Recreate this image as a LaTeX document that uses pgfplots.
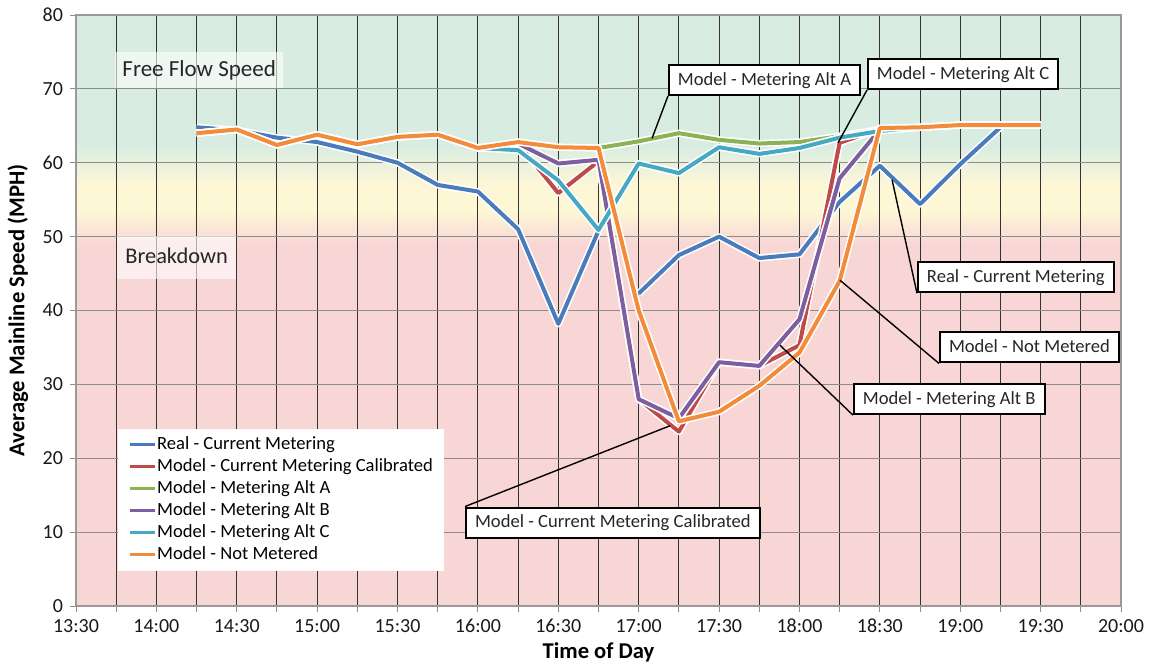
\documentclass[border=0pt]{standalone}
\usepackage{fontspec}
\setmainfont{Carlito}
\usepackage{pgfplots}
\pgfplotsset{compat=1.18}
\usepackage{pgfplotstable}

\definecolor{cblue}{HTML}{4A7BBA}
\definecolor{cred}{HTML}{BE4B48}
\definecolor{cgreen}{HTML}{8DB255}
\definecolor{cpurple}{HTML}{7D5FA0}
\definecolor{ccyan}{HTML}{46A8C2}
\definecolor{corange}{HTML}{F28C3A}
\definecolor{bggreen}{RGB}{216,236,226}
\definecolor{bgyellow}{RGB}{253,247,214}
\definecolor{bgpink}{RGB}{248,214,214}

\pgfplotstableread{
x y
14.25 64.8
14.5 64.4
14.75 63.4
15.0 62.8
15.25 61.5
15.5 60.0
15.75 57.0
16.0 56.1
16.25 51.0
16.5 38.2
16.75 50.8
16.875 nan
17.0 42.3
17.25 47.5
17.5 50.0
17.75 47.1
18.0 47.6
18.25 54.7
18.5 59.6
18.75 54.4
19.0 59.8
19.25 64.8
}\treal

\pgfplotstableread{
x y
14.25 64.0
14.5 64.5
14.75 62.4
15.0 63.8
15.25 62.5
15.5 63.5
15.75 63.8
16.0 62.0
16.25 62.6
16.5 55.9
16.75 60.2
17.0 28.0
17.25 23.6
17.5 33.0
17.75 32.5
18.0 35.3
18.25 62.7
18.5 64.6
18.75 64.8
19.0 65.1
19.25 65.1
19.5 65.1
}\tcal

\pgfplotstableread{
x y
14.25 64.0
14.5 64.5
14.75 62.4
15.0 63.8
15.25 62.5
15.5 63.5
15.75 63.8
16.0 62.0
16.25 62.8
16.5 62.1
16.75 62.0
17.0 62.9
17.25 64.0
17.5 63.1
17.75 62.6
18.0 62.8
18.25 63.6
18.5 64.5
18.75 64.8
19.0 65.1
19.25 65.1
19.5 65.1
}\taltA

\pgfplotstableread{
x y
14.25 64.0
14.5 64.5
14.75 62.4
15.0 63.8
15.25 62.5
15.5 63.5
15.75 63.8
16.0 62.0
16.25 62.6
16.5 59.9
16.75 60.4
17.0 28.0
17.25 25.4
17.5 33.0
17.75 32.5
18.0 38.8
18.25 57.9
18.5 64.5
18.75 64.8
19.0 65.1
19.25 65.1
19.5 65.1
}\taltB

\pgfplotstableread{
x y
14.25 64.0
14.5 64.5
14.75 62.4
15.0 63.8
15.25 62.5
15.5 63.5
15.75 63.8
16.0 62.0
16.25 61.7
16.5 57.6
16.75 50.9
17.0 59.9
17.25 58.6
17.5 62.1
17.75 61.2
18.0 62.0
18.25 63.4
18.5 64.3
18.75 64.8
19.0 65.1
19.25 65.1
19.5 65.1
}\taltC

\pgfplotstableread{
x y
14.25 64.0
14.5 64.5
14.75 62.4
15.0 63.8
15.25 62.5
15.5 63.5
15.75 63.8
16.0 62.0
16.25 62.8
16.5 62.1
16.75 62.0
17.0 40.0
17.25 25.0
17.5 26.3
17.75 29.8
18.0 34.3
18.25 44.0
18.5 64.7
18.75 64.8
19.0 65.1
19.25 65.1
19.5 65.1
}\tnm

\begin{document}
\begin{tikzpicture}
\begin{axis}[
  set layers,
  scale only axis, width=522.5pt, height=295.5pt,
  xmin=13.5, xmax=20, ymin=0, ymax=80,
  unbounded coords=jump,
  xtick={13.5,14,14.5,15,15.5,16,16.5,17,17.5,18,18.5,19,19.5,20},
  xticklabels={13:30,14:00,14:30,15:00,15:30,16:00,16:30,17:00,17:30,18:00,18:30,19:00,19:30,20:00},
  minor xtick={13.75,14.25,14.75,15.25,15.75,16.25,16.75,17.25,17.75,18.25,18.75,19.25,19.75},
  ytick={0,10,...,80},
  xmajorgrids, xminorgrids, ymajorgrids,
  major x grid style={black!80, line width=0.5pt},
  minor x grid style={black!80, line width=0.5pt},
  major y grid style={black!45, line width=0.6pt},
  tick align=outside, xtick pos=bottom, ytick pos=left,
  major tick length=3pt, minor tick length=3pt,
  tick style={black!45, line width=0.5pt},
  axis line style={black!40, line width=0.6pt},
  /pgf/number format/assume math mode=true,
  tick label style={font=\fontsize{10}{12}\selectfont, text=black!90},
  xlabel={Time of Day}, ylabel={Average Mainline Speed (MPH)},
  label style={font=\fontsize{11.3}{13}\selectfont\bfseries},
  x label style={at={(axis description cs:0.5,0)}, anchor=center, yshift=-23pt},
  y label style={at={(axis description cs:0,0.5)}, anchor=center, yshift=29pt},
  legend style={at={(rel axis cs:0.040,0.301)}, anchor=north west, draw=none, fill=white,
    font=\fontsize{9.3}{11}\selectfont, inner xsep=5pt, inner ysep=2.5pt, row sep=0pt,
    nodes={inner xsep=0.5pt, inner ysep=1pt, text height=7pt, text depth=2pt}},
  legend cell align=left,
  legend image code/.code={\draw[#1, line width=1.5pt] (0pt,0pt) -- (12.5pt,0pt);},
  every axis plot/.append style={line join=round},
]
\begin{pgfonlayer}{axis background}
\fill[bgpink] (axis cs:13.5,0) rectangle (axis cs:20,49);
\fill[bottom color=bgpink, top color=bgyellow] (axis cs:13.5,49) rectangle (axis cs:20,53.5);
\fill[bgyellow] (axis cs:13.5,53.5) rectangle (axis cs:20,57);
\fill[bottom color=bgyellow, top color=bggreen] (axis cs:13.5,57) rectangle (axis cs:20,62.5);
\fill[bggreen] (axis cs:13.5,62.5) rectangle (axis cs:20,80);
\end{pgfonlayer}

\addplot[forget plot, white, line width=3.6pt] table[x=x,y=y] {\treal};
\addplot[cblue, line width=2pt] table[x=x,y=y] {\treal};
\addlegendentry{Real - Current Metering}
\addplot[forget plot, white, line width=3.6pt] table[x=x,y=y] {\tcal};
\addplot[cred, line width=2pt] table[x=x,y=y] {\tcal};
\addlegendentry{Model - Current Metering Calibrated}
\addplot[forget plot, white, line width=3.6pt] table[x=x,y=y] {\taltA};
\addplot[cgreen, line width=2pt] table[x=x,y=y] {\taltA};
\addlegendentry{Model - Metering Alt A}
\addplot[forget plot, white, line width=3.6pt] table[x=x,y=y] {\taltB};
\addplot[cpurple, line width=2pt] table[x=x,y=y] {\taltB};
\addlegendentry{Model - Metering Alt B}
\addplot[forget plot, white, line width=3.6pt] table[x=x,y=y] {\taltC};
\addplot[ccyan, line width=2pt] table[x=x,y=y] {\taltC};
\addlegendentry{Model - Metering Alt C}
\addplot[forget plot, white, line width=3.6pt] table[x=x,y=y] {\tnm};
\addplot[corange, line width=2pt] table[x=x,y=y] {\tnm};
\addlegendentry{Model - Not Metered}

% region labels
\node[anchor=north west, fill=white, fill opacity=0.6, text opacity=1, text=black!85,
  font=\fontsize{11.5}{13}\selectfont, inner xsep=3.5pt, minimum height=18pt, text height=8.5pt, text depth=2.5pt]
  at (axis cs:13.743,75.0) {Free Flow Speed};
\node[anchor=north west, fill=white, fill opacity=0.6, text opacity=1, text=black!85,
  font=\fontsize{11.2}{13}\selectfont, inner xsep=4pt, minimum height=21.5pt, minimum width=59pt, text height=8.5pt, text depth=2.5pt]
  at (axis cs:13.755,50.1) {Breakdown};

% callouts
\tikzset{callout/.style={draw=black, line width=1pt, fill=white, text=black!85,
  font=\fontsize{9.3}{11}\selectfont, inner xsep=4.5pt, inner ysep=3pt, text height=7pt, text depth=2pt, anchor=west}}
\node[callout] (A) at (axis cs:17.182,71.2) {Model - Metering Alt A};
\draw[black, line width=0.7pt] (A.south west) -- (axis cs:17.083,63.3);
\node[callout] (C) at (axis cs:18.42,72.0) {Model - Metering Alt C};
\draw[black, line width=0.7pt] (C.south west) -- (axis cs:18.24,62.7);
\node[callout] (R) at (axis cs:18.731,44.5) {Real - Current Metering};
\draw[black, line width=0.7pt] (R.south west) -- (axis cs:18.576,57.7);
\node[callout] (N) at (axis cs:18.868,35.0) {Model - Not Metered};
\draw[black, line width=0.7pt] (N.south west) -- (axis cs:18.252,44.1);
\node[callout] (B) at (axis cs:18.333,28.0) {Model - Metering Alt B};
\draw[black, line width=0.7pt] (B.south west) -- (axis cs:17.879,35.3);
\node[callout] (K) at (axis cs:15.92,11.3) {Model - Current Metering Calibrated};
\draw[black, line width=0.7pt] (K.north west) -- (axis cs:17.195,24.4);
\end{axis}
\pgfresetboundingbox
\path (-38pt,-29pt) rectangle (536.5pt,303pt);
\end{tikzpicture}
\end{document}
